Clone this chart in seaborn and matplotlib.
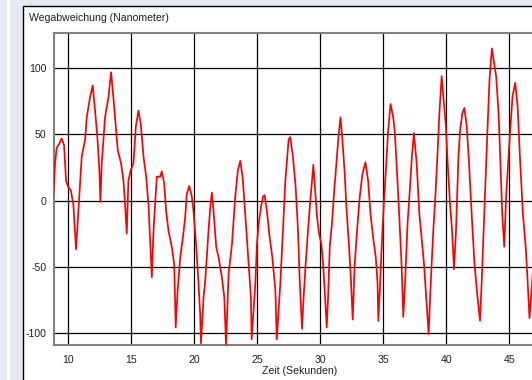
import matplotlib
matplotlib.use("Agg")
import matplotlib.pyplot as plt
import seaborn as sns
import pandas as pd
from matplotlib.patches import Rectangle

# --- data (time in s, deviation in nm) ---
zeit = [8.86, 9.0, 9.13, 9.34, 9.52, 9.71, 9.87, 10.05, 10.24, 10.45, 10.66, 10.85,
        11.11, 11.38, 11.51, 11.77, 11.98, 12.17, 12.35, 12.51, 12.59, 12.70, 12.96,
        13.23, 13.44, 13.62, 13.84, 13.97, 14.23, 14.42, 14.55, 14.68, 14.81, 15.0,
        15.21, 15.40, 15.61, 15.79, 16.01, 16.22, 16.40, 16.59, 16.67, 16.80, 16.93,
        17.06, 17.33, 17.46, 17.65, 17.80, 17.99, 18.25, 18.44, 18.56, 18.70, 18.92,
        19.13, 19.31, 19.44, 19.63, 19.84, 19.97, 20.19, 20.37, 20.50, 20.56, 20.77,
        20.90, 21.16, 21.30, 21.43, 21.56, 21.77, 21.96, 22.22, 22.41, 22.55, 22.75,
        23.02, 23.28, 23.49, 23.68, 23.86, 24.07, 24.34, 24.52, 24.58, 24.87, 25.0,
        25.13, 25.32, 25.48, 25.61, 25.79, 26.01, 26.22, 26.46, 26.57, 26.85, 27.06,
        27.25, 27.51, 27.64, 27.85, 28.07, 28.25, 28.38, 28.57, 28.70, 28.86, 29.05,
        29.23, 29.47, 29.60, 29.76, 29.92, 30.11, 30.24, 30.37, 30.53, 30.64, 30.77,
        30.95, 31.09, 31.30, 31.46, 31.62, 31.77, 31.96, 32.09, 32.30, 32.44, 32.59,
        32.75, 32.94, 33.15, 33.36, 33.60, 33.81, 34.0, 34.21, 34.42, 34.56, 34.62,
        34.74, 34.87, 35.06, 35.22, 35.40, 35.59, 35.80, 35.93, 36.12, 36.28, 36.46,
        36.60, 36.75, 36.94, 37.13, 37.28, 37.44, 37.66, 37.87, 38.05, 38.24, 38.45,
        38.61, 38.77, 38.98, 39.14, 39.30, 39.46, 39.64, 39.77, 39.96, 40.12, 40.30,
        40.46, 40.62, 40.78, 40.97, 41.10, 41.28, 41.44, 41.63, 41.81, 42.03, 42.24,
        42.48, 42.68, 42.82, 43.01, 43.22, 43.43, 43.62, 43.80, 43.96, 44.15, 44.28,
        44.44, 44.60, 44.75, 44.94, 45.07, 45.26, 45.47, 45.66, 45.87, 46.08, 46.30,
        46.45, 46.60, 46.75, 46.90]
abweichung = [4, 28, 40, 43, 47, 42, 15, 10, 8, -3, -37, -8,
              33, 46, 63, 78, 87, 68, 48, 23, -1, 28, 63,
              78, 97, 78, 53, 38, 28, 15, -3, -25, 15, 23,
              28, 56, 68, 58, 33, 18, -3, -43, -58, -23, -3,
              18, 18, 22, 13, -8, -23, -35, -48, -96, -70, -43,
              -28, -13, 5, 11, 3, -8, -35, -63, -86, -108, -73,
              -61, -23, -5, 6, -8, -35, -43, -58, -73, -109, -56,
              -33, 3, 23, 30, 18, -10, -48, -73, -105, -63, -33,
              -18, -5, 3, 4, -8, -28, -43, -68, -105, -63, -23,
              15, 46, 48, 33, 10, -22, -58, -97, -73, -48, -22,
              0, 27, 10, -12, -25, -33, -48, -68, -96, -73, -35,
              -17, 3, 28, 48, 63, 46, 20, -5, -35, -58, -90,
              -48, -22, 3, 20, 29, 15, -10, -28, -43, -63, -91,
              -68, -38, -2, 23, 53, 73, 63, 51, 18, -12, -48,
              -88, -60, -17, 10, 33, 51, 28, -10, -28, -48, -78,
              -101, -63, -22, 3, 33, 66, 94, 79, 58, 28, -2,
              -22, -52, -22, 33, 53, 66, 70, 56, 28, -12, -48,
              -73, -91, -60, -12, 41, 91, 115, 104, 94, 66, 33,
              -10, -35, 3, 33, 53, 79, 89, 71, 28, -10, -35,
              -60, -89, -70, -50]
x_ticks = [10, 15, 20, 25, 30, 35, 40, 45]
y_ticks = [-100, -50, 0, 50, 100]
titel = "Wegabweichung (Nanometer)"
x_label = "Zeit (Sekunden)"

df = pd.DataFrame({"Zeit": zeit, "Abweichung": abweichung})

sns.set_style("white")
plt.rcParams["font.family"] = ["Liberation Sans", "DejaVu Sans"]

W, H = 532, 380
fig = plt.figure(figsize=(W / 100, H / 100), dpi=100)
fig.patch.set_facecolor("#e7e9f5")

# white thin strip and white panel with black border
fig.add_artist(Rectangle((7 / W, 0), 3 / W, 1, transform=fig.transFigure,
                         facecolor="white", edgecolor="none", zorder=0))
fig.add_artist(Rectangle((22.5 / W, -0.1), 1.0, 1 - 5.5 / H + 0.1,
                         transform=fig.transFigure, facecolor="white",
                         edgecolor="black", linewidth=1.0, zorder=0))

left, right, top, bottom = 54, 546, 33, 345
ax = fig.add_axes([left / W, 1 - bottom / H, (right - left) / W, (bottom - top) / H])
ax.set_facecolor("white")

sns.lineplot(data=df, x="Zeit", y="Abweichung", ax=ax, color="#ff0000",
             linewidth=1.25, sort=False, estimator=None, zorder=3)

ax.set_xlim(8.914, 47.91)
ax.set_ylim(-109.3, 126.7)
ax.set_xticks(x_ticks)
ax.set_yticks(y_ticks)
ax.set_xticklabels([str(v) for v in x_ticks])
ax.set_yticklabels([str(v) for v in y_ticks])
ax.grid(True, color="black", linewidth=0.9, zorder=1)
ax.set_axisbelow(True)
ax.tick_params(axis="both", length=4, width=0.9, color="black",
               labelsize=7.6, labelcolor="#202020", pad=1.5, direction="out")
ax.tick_params(axis="x", pad=3)
for s in ["left", "top", "bottom", "right"]:
    ax.spines[s].set_color("#808080")
    ax.spines[s].set_linewidth(1.5)
ax.set_xlabel("")
ax.set_ylabel("")

fig.text(29 / W, 1 - 18 / H, titel, fontsize=7.6, color="#202020",
         ha="left", va="center")
fig.text(300 / W, 1 - 371 / H, x_label, fontsize=7.6, color="#202020",
         ha="center", va="center")

fig.savefig("out.png", dpi=100, facecolor=fig.get_facecolor())
